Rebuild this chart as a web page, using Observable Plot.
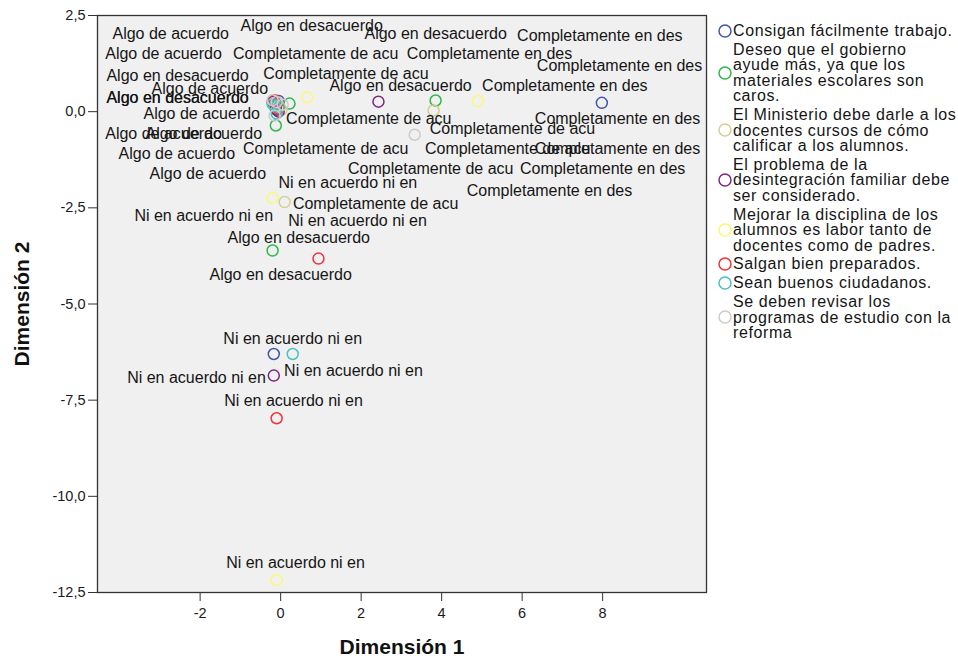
<!DOCTYPE html>
<html><head><meta charset="utf-8">
<script src="https://cdn.jsdelivr.net/npm/d3@7"></script>
<script src="https://cdn.jsdelivr.net/npm/@observablehq/plot@0.6"></script>
<style>
body{margin:0;background:#fff;font-family:"Liberation Sans",Arial,sans-serif;}
#wrap{position:relative;width:958px;height:662px;}
#chart{position:absolute;left:0;top:0;}
#legend{position:absolute;left:718px;top:23px;width:240px;}
.item{display:flex;align-items:center;margin-bottom:3.3px;}
.item svg{flex:none;margin-right:1px;}
.txt{font-size:16px;line-height:15.5px;letter-spacing:0.6px;color:#151515;white-space:nowrap;}
</style></head><body>
<div id="wrap"><div id="chart"></div><div id="legend"></div></div>
<script>
// Series (variables) and their legend line breaks
const legendLines = [
  ["Consigan fácilmente trabajo."],
  ["Deseo que el gobierno", "ayude más, ya que los", "materiales escolares son", "caros."],
  ["El Ministerio debe darle a los", "docentes cursos de cómo", "calificar a los alumnos."],
  ["El problema de la", "desintegración familiar debe", "ser considerado."],
  ["Mejorar la disciplina de los", "alumnos es labor tanto de", "docentes como de padres."],
  ["Salgan bien preparados."],
  ["Sean buenos ciudadanos."],
  ["Se deben revisar los", "programas de estudio con la", "reforma"]
];
const variables = legendLines.map(l => l.join(" "));
const palette = ["#3E58AC", "#2EB848", "#D3CE97", "#7C287D", "#FBF873", "#EF3338", "#48C2C5", "#CCCCCC"];

// Category labels (same order in every row below)
const categories = ["Algo de acuerdo", "Algo en desacuerdo", "Completamente de acu", "Completamente en des", "Ni en acuerdo ni en"];

// Dimension 1 coordinates: one row per variable, one column per category
const dim1Values = [
  [-0.12, -0.05, -0.15, 7.98, -0.17],
  [-0.12, -0.20,  0.22, 3.85, -0.10],
  [-0.05,  0.10,  0.02, 3.80, -0.10],
  [-0.10, -0.20, -0.05, 2.43, -0.17],
  [ 0.66, -0.20, -0.08, 4.90, -0.10],
  [-0.10,  0.94, -0.05, -0.15, -0.10],
  [-0.15, -0.10, -0.05, -0.20, 0.30],
  [-0.20, -0.15,  0.05, 3.33, -0.10]
];
// Dimension 2 coordinates
const dim2Values = [
  [ 0.08,  0.28, 0.18, 0.23, -6.30],
  [-0.36, -3.61, 0.21, 0.29,  0.10],
  [ 0.15, -2.35, 0.05, 0.03,  0.22],
  [ 0.05,  0.25, 0.00, 0.26, -6.86],
  [ 0.37, -2.24, 0.10, 0.28, -12.18],
  [ 0.20, -3.82, 0.08, 0.30, -7.97],
  [ 0.15, -0.05, 0.12, 0.20, -6.30],
  [ 0.30, -0.10, 0.18, -0.60, 0.25]
];
// Label anchor positions (in dimension units) as displaced in the original plot
const labelDim1 = [
  [-2.73,  0.77, 0.87, 8.42,  0.30],
  [-2.91,  0.45, 1.62, 5.19,  1.67],
  [-1.76, -2.56, 2.19, 7.06,  1.91],
  [-1.96,  3.85, 5.76, 7.93, -2.09],
  [-2.91, -2.56, 1.12, 8.37,  0.37],
  [-1.91,  0.00, 5.64, 8.37,  0.32],
  [-2.58,  2.98, 3.73, 8.00,  1.81],
  [-1.81, -2.56, 2.36, 6.68, -1.91]
];
const labelDim2 = [
  [ 2.01,  2.24,  1.49,  1.20, -5.90],
  [ 1.49, -3.27,  0.98,  1.49, -1.84],
  [ 0.58,  0.94, -0.18,  0.66, -2.85],
  [-0.05,  2.01, -0.44,  1.98, -6.91],
  [-0.57,  0.37, -0.96, -0.18, -11.74],
  [-0.57, -4.23, -0.96, -0.96, -7.53],
  [-1.09,  0.68, -1.48, -1.48, -6.73],
  [-1.61,  0.37, -2.39, -2.05, -2.70]
];
const xTicks = [-2, 0, 2, 4, 6, 8];
const yTicks = [2.5, 0, -2.5, -5, -7.5, -10, -12.5];
const xTitle = "Dimensión 1";
const yTitle = "Dimensión 2";

const points = variables.flatMap((v, i) => categories.map((c, j) => ({
  variable: v, category: c,
  x: dim1Values[i][j], y: dim2Values[i][j],
  lx: labelDim1[i][j], ly: labelDim2[i][j]
})));

const fmtY = d => d.toFixed(1).replace(".", ",");
const fmtX = d => String(d);
const font = '"Liberation Sans", Arial, sans-serif';

const chart = Plot.plot({
  width: 716, height: 662,
  marginLeft: 97, marginRight: 10, marginTop: 15, marginBottom: 70,
  x: {domain: [-4.55, 10.58]},
  y: {domain: [-12.5, 2.5]},
  color: {domain: variables, range: palette},
  style: {fontFamily: font, background: "transparent", color: "#1a1a1a"},
  marks: [
    Plot.frame({fill: "#f0f0f0", stroke: null}),
    Plot.axisY(yTicks, {tickSize: 9, tickPadding: 3, fontSize: 14.5, tickFormat: fmtY, label: null, stroke: "#333"}),
    Plot.axisX(xTicks, {tickSize: 9, tickPadding: 6, fontSize: 14.5, tickFormat: fmtX, label: null, stroke: "#333"}),
    Plot.dot(points, {x: "x", y: "y", r: 5.5, stroke: "variable", strokeWidth: 1.5, fill: "none"}),
    Plot.text(points, {x: "lx", y: "ly", text: "category", fontSize: 16, fill: "#151515", lineAnchor: "middle", textAnchor: "middle"}),
    Plot.frame({stroke: "#333", strokeWidth: 1.3}),
    Plot.text([xTitle], {frameAnchor: "bottom", dy: 55, lineAnchor: "middle", textAnchor: "middle", fontWeight: "bold", fontSize: 21, fill: "#111"}),
    Plot.text([yTitle], {frameAnchor: "left", dx: -75, rotate: -90, lineAnchor: "middle", textAnchor: "middle", fontWeight: "bold", fontSize: 21, fill: "#111"})
  ]
});
document.getElementById("chart").appendChild(chart);

const legend = document.getElementById("legend");
legendLines.forEach((lines, i) => {
  const item = document.createElement("div");
  item.className = "item";
  item.innerHTML = `<svg width="14" height="14"><circle cx="7" cy="7" r="6" fill="none" stroke="${palette[i]}" stroke-width="1.5"/></svg>`;
  const t = document.createElement("div");
  t.className = "txt";
  t.innerHTML = lines.join("<br>");
  item.appendChild(t);
  legend.appendChild(item);
});
</script>
</body></html>
